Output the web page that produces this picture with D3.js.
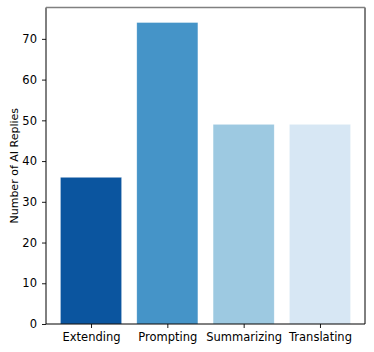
<!DOCTYPE html>
<html>
<head>
<meta charset="utf-8">
<script src="https://cdn.jsdelivr.net/npm/d3@7"></script>
<style>
  body { margin: 0; background: #fff; }
  svg text { font-family: "DejaVu Sans", sans-serif; }
</style>
</head>
<body>
<div id="chart"></div>
<script>
// datos
const categories = ["Extending", "Prompting", "Summarizing", "Translating"];
const replies = [36, 74, 49, 49];
const barColors = ["#0b559f", "#4594c8", "#9dc9e1", "#d7e7f4"];
const yTicks = [0, 10, 20, 30, 40, 50, 60, 70];

const W = 374, H = 352;
const MARGIN = { top: 7.5, right: 9, bottom: 28, left: 46 };
const innerW = W - MARGIN.left - MARGIN.right;
const innerH = H - MARGIN.top - MARGIN.bottom;

const svg = d3.select("#chart").append("svg")
  .attr("width", W).attr("height", H);

const g = svg.append("g")
  .attr("transform", `translate(${MARGIN.left},${MARGIN.top})`);

// x como en matplotlib: barras de ancho 0.8, margen 5%
const x = d3.scaleLinear()
  .domain([-0.59, categories.length - 1 + 0.59])
  .range([0, innerW]);

const y = d3.scaleLinear()
  .domain([0, d3.max(replies) * 1.05])
  .range([innerH, 0]);

g.selectAll("rect.bar")
  .data(replies)
  .join("rect")
  .attr("class", "bar")
  .attr("x", (d, i) => x(i - 0.4))
  .attr("width", x(0.8) - x(0))
  .attr("y", d => y(d))
  .attr("height", d => innerH - y(d))
  .attr("fill", (d, i) => barColors[i])
  .attr("stroke", "#fff")
  .attr("stroke-opacity", 0.4)
  .attr("stroke-width", 0.6);

// ejes
const yAxis = g.append("g")
  .call(d3.axisLeft(y).tickValues(yTicks).tickSize(4).tickPadding(5));
const xAxis = g.append("g")
  .attr("transform", `translate(0,${innerH})`)
  .call(d3.axisBottom(x).tickValues(d3.range(categories.length))
    .tickFormat(i => categories[i]).tickSize(4).tickPadding(4.5));

[yAxis, xAxis].forEach(a => {
  a.select(".domain").remove();
  a.selectAll("text").attr("font-size", 11.5).attr("fill", "#000")
    .style("font-family", "'DejaVu Sans', sans-serif");
  a.selectAll("line").attr("stroke", "#000").attr("stroke-width", 0.9);
});

// spines
g.append("line").attr("x1", 0).attr("x2", 0).attr("y1", 0).attr("y2", innerH)
  .attr("stroke", "#000").attr("stroke-width", 1);
g.append("line").attr("x1", 0).attr("x2", innerW).attr("y1", innerH).attr("y2", innerH)
  .attr("stroke", "#000").attr("stroke-width", 1);
g.append("line").attr("x1", innerW).attr("x2", innerW).attr("y1", 0).attr("y2", innerH)
  .attr("stroke", "#000").attr("stroke-width", 1);
g.append("line").attr("x1", 0).attr("x2", innerW).attr("y1", 0).attr("y2", 0)
  .attr("stroke", "#808080").attr("stroke-width", 1.5);

// y label
svg.append("text")
  .attr("transform", `translate(17.5,${MARGIN.top + innerH / 2}) rotate(-90)`)
  .attr("text-anchor", "middle")
  .attr("font-size", 11)
  .text("Number of AI Replies");
</script>
</body>
</html>
